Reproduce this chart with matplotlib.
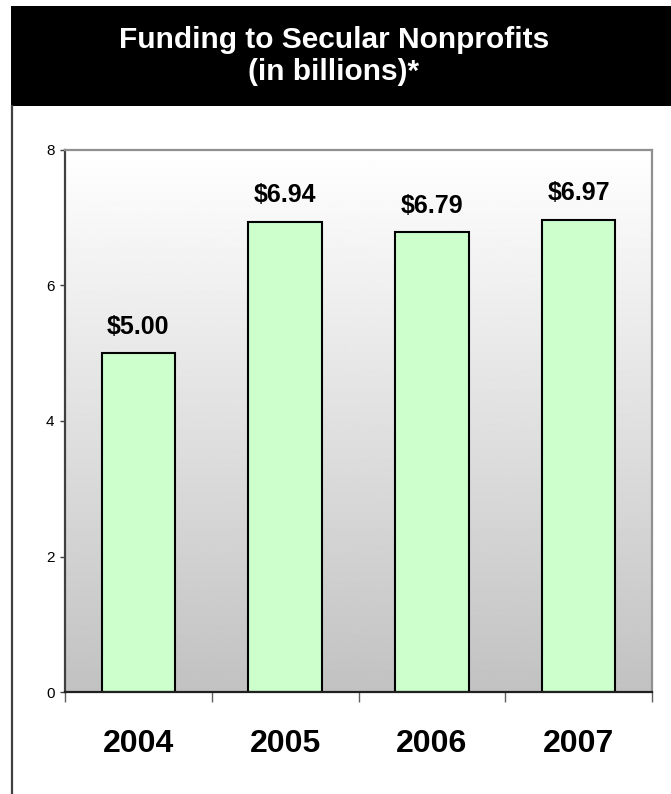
import matplotlib
matplotlib.use("Agg")
import matplotlib.pyplot as plt
from matplotlib.patches import Rectangle
from matplotlib.lines import Line2D
import numpy as np

plt.rcParams['font.family'] = ['Liberation Sans', 'DejaVu Sans']

years = ['2004', '2005', '2006', '2007']
funding = [5.00, 6.94, 6.79, 6.97]
value_labels = ['$5.00', '$6.94', '$6.79', '$6.97']
y_ticks = [0, 2, 4, 6, 8]

W, H = 671, 794
fig = plt.figure(figsize=(W / 100, H / 100), dpi=100)

# black title band and the thin frame line down the left side
fig.patches.append(Rectangle((11 / W, 1 - 106 / H), 1 - 11 / W, 100 / H,
                             transform=fig.transFigure, facecolor='black',
                             edgecolor='none', zorder=0))
fig.lines.append(Line2D([12 / W, 12 / W], [0, 1 - 106 / H],
                        transform=fig.transFigure, color='#404040', lw=1.6))
fig.text(334 / W, 1 - 56 / H, 'Funding to Secular Nonprofits\n(in billions)*',
         color='white', fontsize=21.5, fontweight='bold',
         ha='center', va='center', linespacing=1.2)

ax = fig.add_axes([65 / W, 102 / H, 587 / W, 542 / H])
x = np.arange(len(years))

# vertical white-to-grey gradient behind the bars
grad = np.linspace(1.0, 0.76, 256).reshape(-1, 1)
ax.imshow(grad, cmap='gray', vmin=0, vmax=1, aspect='auto',
          extent=(-0.5, 3.5, 0, 8), origin='upper', zorder=0)

ax.bar(x, funding, width=0.5, color='#CCFFCC', edgecolor='black',
       linewidth=1.5, zorder=2)
for xi, v, lab in zip(x, funding, value_labels):
    ax.annotate(lab, (xi, v), xytext=(0, 14), textcoords='offset points',
                ha='center', va='baseline', fontsize=18, fontweight='bold')

ax.set_xlim(-0.5, 3.5)
ax.set_ylim(0, 8)
ax.set_yticks(y_ticks)
ax.tick_params(axis='y', direction='out', length=3.6, width=1,
               color='#404040', labelsize=11, pad=4)

# category boundaries carry the tick marks, year labels sit between them
ax.set_xticks(np.arange(-0.5, 4, 1.0))
ax.set_xticklabels([])
ax.tick_params(axis='x', which='major', direction='out', length=7.5,
               width=1, color='#606060')
ax.set_xticks(x, minor=True)
ax.set_xticklabels(years, minor=True, fontsize=23, fontweight='bold')
ax.tick_params(axis='x', which='minor', length=0, pad=27)

ax.spines['left'].set_color('#404040')
ax.spines['bottom'].set_color('#202020')
ax.spines['top'].set_color('#909090')
ax.spines['right'].set_color('#909090')
for s in ax.spines.values():
    s.set_linewidth(1.6)

fig.savefig('out.png', dpi=100)
